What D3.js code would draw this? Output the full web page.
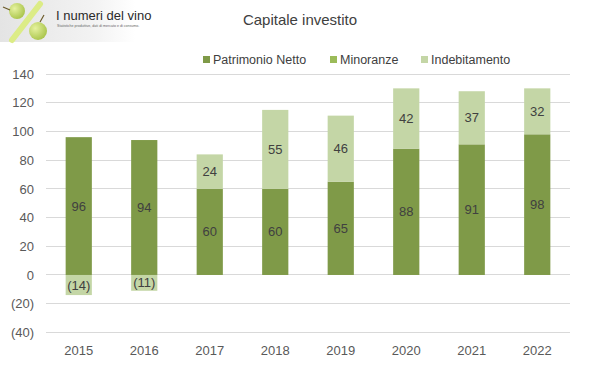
<!DOCTYPE html>
<html><head><meta charset="utf-8">
<script src="https://cdn.jsdelivr.net/npm/d3@7"></script>
<style>body{margin:0;background:#fff}svg{display:block}</style>
</head><body>
<script>
const years = ["2015","2016","2017","2018","2019","2020","2021","2022"];
const patrimonioNetto = [96, 94, 60, 60, 65, 88, 91, 98];
const minoranze = [0, 0, 0, 0, 0, 0, 0, 0];
const indebitamento = [-14, -11, 24, 55, 46, 42, 37, 32];
const yTicks = [-40, -20, 0, 20, 40, 60, 80, 100, 120, 140];
const seriesNames = ["Patrimonio Netto", "Minoranze", "Indebitamento"];
const colors = ["#7F9A48", "#9BBB59", "#C4D6A6"];

const W = 599, H = 378;
const svg = d3.select("body").append("svg").attr("width", W).attr("height", H);
const font = "Liberation Sans, Arial, sans-serif";

// Logo
const defs = svg.append("defs");
const lg = defs.append("linearGradient").attr("id","lg").attr("x1","0").attr("x2","1");
lg.append("stop").attr("offset","0").attr("stop-color","#e4e4e4");
lg.append("stop").attr("offset","0.7").attr("stop-color","#f3f3f3");
lg.append("stop").attr("offset","1").attr("stop-color","#ffffff");
const rg = defs.append("radialGradient").attr("id","rg").attr("cx","0.35").attr("cy","0.35").attr("r","0.7");
rg.append("stop").attr("offset","0").attr("stop-color","#e6f2a0");
rg.append("stop").attr("offset","1").attr("stop-color","#a9c44a");
svg.append("rect").attr("x",0).attr("y",0).attr("width",135).attr("height",42).attr("fill","url(#lg)");
svg.append("line").attr("x1",12).attr("y1",40).attr("x2",40).attr("y2",4)
  .attr("stroke","#dcec86").attr("stroke-width",6).attr("stroke-linecap","round");
svg.append("circle").attr("cx",17).attr("cy",11).attr("r",8).attr("fill","url(#rg)");
svg.append("circle").attr("cx",38).attr("cy",31).attr("r",9).attr("fill","url(#rg)");
svg.append("line").attr("x1",3).attr("y1",7).attr("x2",10).attr("y2",10).attr("stroke","#6b5a2a").attr("stroke-width",1.2);
svg.append("line").attr("x1",40).attr("y1",22).attr("x2",44).attr("y2",15).attr("stroke","#6b5a2a").attr("stroke-width",1.2);
svg.append("text").attr("x",56).attr("y",20).attr("font-family",font).attr("font-size",13)
  .attr("fill","#2a2a2a").text("I numeri del vino");
svg.append("text").attr("x",57).attr("y",27).attr("font-family",font).attr("font-size",3.6)
  .attr("fill","#666").text("Statistiche produttive, dati di mercato e di consumo.");

// Title
svg.append("text").attr("x",300).attr("y",25).attr("text-anchor","middle")
  .attr("font-family",font).attr("font-size",15).attr("fill","#404040").text("Capitale investito");

// Legend
const legX = [203, 330, 421];
seriesNames.forEach((n,i)=>{
  svg.append("rect").attr("x",legX[i]).attr("y",56).attr("width",7).attr("height",7).attr("fill",colors[i]);
  svg.append("text").attr("x",legX[i]+10).attr("y",64).attr("font-family",font).attr("font-size",12.5)
    .attr("fill","#404040").text(n);
});

const x = d3.scaleBand().domain(years).range([46,570]).paddingInner(0.6).paddingOuter(0.3);
const y = d3.scaleLinear().domain([-40,140]).range([332.4, 74]);

// Grid
svg.append("g").selectAll("line").data(yTicks).join("line")
  .attr("x1",46).attr("x2",570).attr("y1",d=>y(d)).attr("y2",d=>y(d))
  .attr("stroke","#d9d9d9").attr("stroke-width",1).attr("shape-rendering","crispEdges");

const fmt = d => d < 0 ? "(" + Math.abs(d) + ")" : String(d);

const yAxis = svg.append("g").attr("transform","translate(34,0)")
  .call(d3.axisLeft(y).tickValues(yTicks).tickFormat(fmt).tickSize(0).tickPadding(0));
yAxis.select(".domain").remove();
yAxis.selectAll("text").attr("font-family",font).attr("font-size",13).attr("fill","#595959");

const xAxis = svg.append("g").attr("transform","translate(0,343)")
  .call(d3.axisBottom(x).tickSize(0).tickPadding(0));
xAxis.select(".domain").remove();
xAxis.selectAll("text").attr("font-family",font).attr("font-size",13).attr("fill","#595959").attr("dy","0.9em");

// Bars
const data = years.map((yr,i)=>({yr, vals:[patrimonioNetto[i], minoranze[i], indebitamento[i]]}));
const segs = [];
data.forEach(d=>{
  let pos=0, neg=0;
  d.vals.forEach((v,si)=>{
    if (v===0) return;
    let y0,y1;
    if (v>0){ y0=pos; y1=pos+v; pos=y1; } else { y0=neg; y1=neg+v; neg=y1; }
    segs.push({yr:d.yr, si, v, y0, y1});
  });
});
svg.append("g").selectAll("rect").data(segs).join("rect")
  .attr("x",d=>x(d.yr)).attr("width",x.bandwidth())
  .attr("y",d=>y(Math.max(d.y0,d.y1))).attr("height",d=>Math.abs(y(d.y0)-y(d.y1)))
  .attr("fill",d=>colors[d.si]);
svg.append("g").selectAll("text").data(segs).join("text")
  .attr("x",d=>x(d.yr)+x.bandwidth()/2).attr("y",d=>y((d.y0+d.y1)/2))
  .attr("dy","0.35em").attr("text-anchor","middle")
  .attr("font-family",font).attr("font-size",13).attr("fill","#404040").text(d=>fmt(d.v));
</script>
</body></html>
